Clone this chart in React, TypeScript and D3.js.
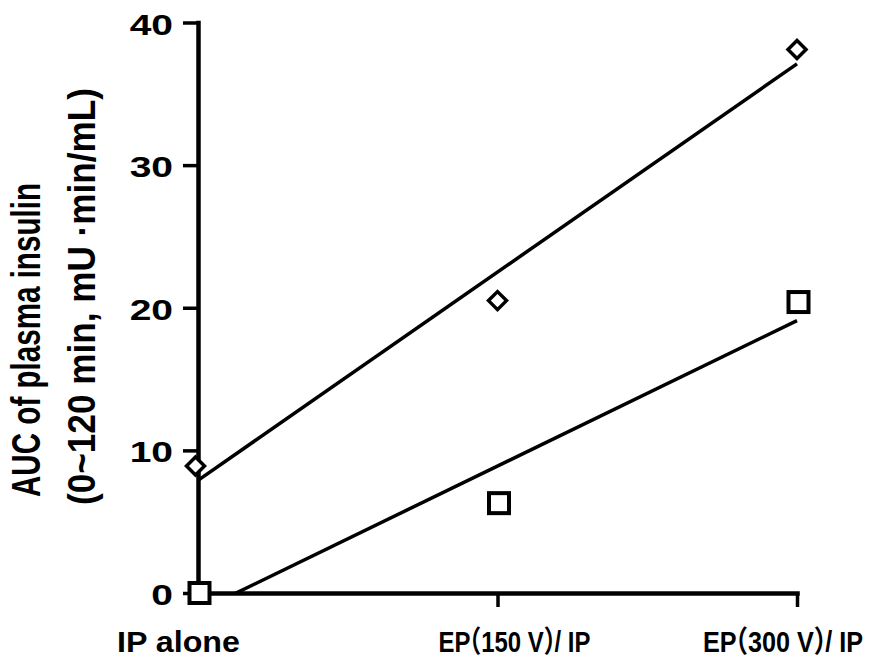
import * as d3 from "d3";
import { useEffect, useRef } from "react";

const categories = ["IP alone", "EP（150 V）/ IP", "EP（300 V）/ IP"];
const diamondValues = [8.9, 20.5, 38.1];
const squareValues = [0, 6.3, 20.4];
const yTicks = [0, 10, 20, 30, 40];
const titleLines = ["AUC of plasma insulin", "(0~120 min, mU ·min/mL)"];

const W = 884;
const H = 662;
const FONT = "'Liberation Sans', Arial, 'Noto Sans CJK SC', sans-serif";

// category label placement (offset from tick, final width)
const LABEL_DX = [-19.5, 17, -14];
const LABEL_LEN = [123, 152, 160];

// least-squares line over category index
const fit = (vals: number[]) => {
  const n = vals.length;
  const mx = (n - 1) / 2;
  const my = d3.mean(vals) as number;
  let num = 0, den = 0;
  vals.forEach((v, i) => { num += (i - mx) * (v - my); den += (i - mx) ** 2; });
  const slope = num / den;
  return { slope, intercept: my - slope * mx };
};

export default function App() {
  const svgRef = useRef<SVGSVGElement>(null);

  useEffect(() => {
    const svg = d3.select(svgRef.current);
    svg.selectAll("*").remove();

    const x = d3.scalePoint<string>().domain(categories).range([198, 797]);
    const xi = d3.scaleLinear().domain([0, categories.length - 1]).range([198, 797]);
    const y = d3.scaleLinear().domain([0, 40]).range([593, 22.5]);

    svg.append("defs").append("clipPath").attr("id", "plot")
      .append("rect")
      .attr("x", 150).attr("y", 0)
      .attr("width", 700).attr("height", y(0));

    // ── Y axis ──
    const gy = svg.append("g")
      .attr("transform", "translate(198,0)")
      .call(d3.axisLeft(y).tickValues(yTicks).tickSize(15).tickSizeOuter(0).tickFormat(() => ""));
    gy.select(".domain").attr("stroke", "#000").attr("stroke-width", 4.5).attr("stroke-linecap", "square");
    gy.selectAll(".tick line").attr("stroke", "#000").attr("stroke-width", 3.5);

    gy.selectAll(".tick").append("text")
      .attr("fill", "#000")
      .attr("transform", "translate(-25,11.5) scale(1.3,1)")
      .attr("text-anchor", "end")
      .style("font-family", FONT)
      .style("font-size", "30px")
      .style("font-weight", "bold")
      .text((d: any) => String(d));

    // ── X axis ──
    const gx = svg.append("g")
      .attr("transform", `translate(0,${y(0)})`)
      .call(d3.axisBottom(x).tickSize(14).tickSizeOuter(0).tickFormat(() => ""));
    gx.select(".domain").attr("stroke", "#000").attr("stroke-width", 4.5).attr("stroke-linecap", "square");
    gx.selectAll(".tick line").attr("stroke", "#000").attr("stroke-width", 3.5)
      .filter((_d, i) => i === 0).remove();

    categories.forEach((label, i) => {
      const cx = (x(label) as number) + LABEL_DX[i];
      const t = svg.append("text")
        .attr("x", cx)
        .attr("y", 652)
        .attr("text-anchor", "middle")
        .style("font-family", FONT)
        .style("font-size", "30px")
        .style("font-weight", "bold");
      const parts = label.split(/([（）])/).filter((p) => p !== "");
      let afterClose = false;
      parts.forEach((p) => {
        const ts = t.append("tspan").text(p);
        if (p === "（") ts.attr("dx", "-0.55em");
        if (afterClose) ts.attr("dx", "-0.55em");
        afterClose = p === "）";
      });
      const bw = (t.node() as SVGTextElement).getBBox().width;
      const k = bw > 0 ? LABEL_LEN[i] / bw : 1;
      t.attr("transform", `translate(${cx},0) scale(${k},1) translate(${-cx},0)`);
    });

    // ── Y title ──
    const titlePos = [
      { x: 40, y: 497, len: 314, size: 29 },
      { x: 95, y: 505, len: 417, size: 28 },
    ];
    svg.append("g").selectAll("text")
      .data(titleLines)
      .enter()
      .append("text")
      .attr("transform", (_d, i) => `translate(${titlePos[i].x},${titlePos[i].y}) rotate(-90) scale(1,1.38)`)
      .attr("textLength", (_d, i) => titlePos[i].len)
      .attr("lengthAdjust", "spacingAndGlyphs")
      .style("font-family", FONT)
      .style("font-size", (_d, i) => `${titlePos[i].size}px`)
      .style("font-weight", "bold")
      .text((d) => d);

    // ── Regression lines ──
    const lines = svg.append("g").attr("clip-path", "url(#plot)");
    [diamondValues, squareValues].forEach((vals) => {
      const { slope, intercept } = fit(vals);
      const end = vals.length - 1;
      lines.append("line")
        .attr("x1", xi(0)).attr("y1", y(intercept))
        .attr("x2", xi(end)).attr("y2", y(intercept + slope * end))
        .attr("stroke", "#000")
        .attr("stroke-width", 3.5);
    });

    // ── Markers ──
    const d = 9;
    svg.append("g").selectAll("path")
      .data(diamondValues)
      .enter()
      .append("path")
      .attr("d", (v, i) => {
        const cx = xi(i) - (i === 0 ? 2.5 : 0);
        const cy = y(v);
        return `M${cx},${cy - d}L${cx + d},${cy}L${cx},${cy + d}L${cx - d},${cy}Z`;
      })
      .attr("fill", "#fff")
      .attr("stroke", "#000")
      .attr("stroke-width", 3.5);

    const s = 20;
    svg.append("g").selectAll("rect")
      .data(squareValues)
      .enter()
      .append("rect")
      .attr("x", (_v, i) => xi(i) + 1.5 - s / 2)
      .attr("y", (v) => y(v) - s / 2)
      .attr("width", s)
      .attr("height", s)
      .attr("fill", "#fff")
      .attr("stroke", "#000")
      .attr("stroke-width", 4);
  }, []);

  return (
    <>
      <style>{`body{margin:0}`}</style>
      <svg ref={svgRef} width={W} height={H} style={{ display: "block", background: "#fff" }} />
    </>
  );
}
